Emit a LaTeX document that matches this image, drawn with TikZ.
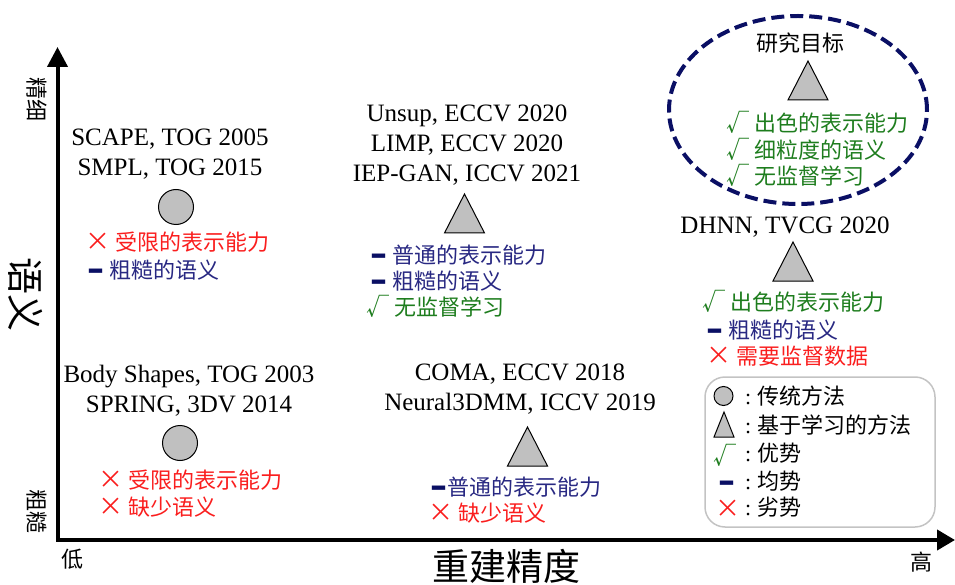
\documentclass[tikz,border=0pt]{standalone}
\usepackage{fontspec}
\setmainfont{Liberation Serif}
\newfontfamily\cjk{Noto Sans CJK SC}
\newfontfamily\dashfont{DejaVu Sans}
\usetikzlibrary{arrows.meta,shapes.geometric}

\definecolor{redc}{RGB}{250,30,30}
\definecolor{navyc}{RGB}{40,40,130}
\definecolor{navydark}{RGB}{10,15,100}
\definecolor{greenc}{RGB}{30,125,30}
\definecolor{markgray}{RGB}{192,192,192}
\definecolor{boxgray}{RGB}{195,195,195}

% marks used in front of each property (kept out of the line height)
\newcommand\plusmark{\raisebox{0pt}[0pt][0pt]{\fontsize{23}{25}\selectfont √}}
\newcommand\evenmark{\raisebox{-2.5pt}[0pt][0pt]{\color{navydark}\dashfont\bfseries\fontsize{34}{34}\selectfont –}}
\newcommand\minusmark{\raisebox{0pt}[0pt][0pt]{\fontsize{25}{25}\selectfont ×}}

\tikzset{
  paper/.style={font=\fontsize{25}{30}\selectfont, align=center, inner sep=0pt},
  prop/.style={anchor=west, inner sep=0pt, font=\cjk\fontsize{22}{25}\selectfont},
  good/.style={prop, text=greenc},
  even/.style={prop, text=navyc},
  bad/.style={prop, text=redc},
  keymark/.style={prop, anchor=base},
  axlabel/.style={inner sep=0pt, font=\cjk\fontsize{22}{24}\selectfont},
  axtitle/.style={inner sep=0pt, font=\cjk\fontsize{37}{40}\selectfont},
  tri/.style={draw=black, fill=markgray, line width=1pt, line join=miter},
  dot/.style={circle, draw=black, fill=markgray, line width=1pt, minimum size=35pt, inner sep=0pt},
}

\begin{document}
\begin{tikzpicture}[x=1pt, y=-1pt]
\useasboundingbox (0,0) rectangle (955,585);

% axes
\coordinate (origin) at (57.5,540);
\coordinate (ytip) at (57.5,47);
\coordinate (xtip) at (955,540);
\draw[line width=4pt, line join=miter,
      {Triangle[length=20pt,width=20pt]}-{Triangle[length=18pt,width=20pt]}]
  (ytip) -- (origin) -- (xtip);

% axis labels
\node[axlabel, rotate=-90] (fine) at (37,100) {精细};
\node[axtitle, rotate=-90] (semantic) at (26,295) {语义};
\node[axlabel, rotate=-90] (coarse) at (37,511) {粗糙};
\node[axlabel] (low) at (72,559) {低};
\node[axlabel] (high) at (921,562) {高};
\node[axtitle] (accuracy) at (506,566) {重建精度};

% traditional methods, fine semantics
\node[paper] (scape) at (170,154.5) {SCAPE, TOG 2005\\SMPL, TOG 2015};
\node[dot] (c1) at (176,207) {};
\node[bad] (c1a) at (85,242) {\minusmark\ 受限的表示能力};
\node[even] (c1b) at (87,270) {\evenmark\ 粗糙的语义};

% traditional methods, coarse semantics
\node[paper] (body) at (189,391) {Body Shapes, TOG 2003\\SPRING, 3DV 2014};
\node[dot] (c2) at (180,443) {};
\node[bad] (c2a) at (98,480) {\minusmark\ 受限的表示能力};
\node[bad] (c2b) at (98,507) {\minusmark\ 缺少语义};

% unsupervised learning methods
\node[paper] (unsup) at (467,145) {Unsup, ECCV 2020\\LIMP, ECCV 2020\\IEP-GAN, ICCV 2021};
\draw[tri] (464.5,194) -- (484.5,233) -- (444.5,233) -- cycle;
\node[even] (t1a) at (370,255) {\evenmark\ 普通的表示能力};
\node[even] (t1b) at (370,281) {\evenmark\ 粗糙的语义};
\node[good] (t1c) at (366,307) {\plusmark\ 无监督学习};

% mesh autoencoders
\node[paper] (coma) at (520,389) {COMA, ECCV 2018\\Neural3DMM, ICCV 2019};
\draw[tri] (527.5,427) -- (547.5,466) -- (507.5,466) -- cycle;
\node[even] (t2a) at (430,487) {\evenmark 普通的表示能力};
\node[bad] (t2b) at (428,513) {\minusmark\ 缺少语义};

% research goal
\node[ellipse, draw=navydark, line width=4pt, dash pattern=on 13pt off 6pt,
      minimum width=258pt, minimum height=188pt, inner sep=0pt] (goal) at (798,110) {};
\node[inner sep=0pt, font=\cjk\fontsize{22}{24}\selectfont] (goaltitle) at (800,43) {研究目标};
\draw[tri] (808,61) -- (828,100) -- (788,100) -- cycle;
\node[good] (g1) at (726,123) {\plusmark\ 出色的表示能力};
\node[good] (g2) at (726,150) {\plusmark\ 细粒度的语义};
\node[good] (g3) at (726,176) {\plusmark\ 无监督学习};

% supervised learning method
\node[paper] (dhnn) at (785,227) {DHNN, TVCG 2020};
\draw[tri] (793,242) -- (813,281) -- (773,281) -- cycle;
\node[good] (d1) at (702,302) {\plusmark\ 出色的表示能力};
\node[even] (d2) at (706,330) {\evenmark\ 粗糙的语义};
\node[bad] (d3) at (706,356) {\minusmark\ 需要监督数据};

% legend
\node[draw=boxgray, line width=1.5pt, rounded corners=20pt,
      minimum width=230pt, minimum height=150pt, inner sep=0pt] (legend) at (820,452) {};
\node[dot, minimum size=19pt] (lcirc) at (723.5,396) {};
\draw[tri] (724,412) -- (734,437) -- (714,437) -- cycle;
\node[keymark, text=greenc] (lgood) at (725,464) {\plusmark};
\node[keymark] (leven) at (727,489.5) {\evenmark};
\node[keymark, text=redc] (lbad) at (728,517) {\minusmark};
\node[prop] (ltxt1) at (745,396) {{\rmfamily :} 传统方法};
\node[prop] (ltxt2) at (745,425) {{\rmfamily :} 基于学习的方法};
\node[prop] (ltxt3) at (745,453) {{\rmfamily :} 优势};
\node[prop] (ltxt4) at (745,481) {{\rmfamily :} 均势};
\node[prop] (ltxt5) at (745,507) {{\rmfamily :} 劣势};
\end{tikzpicture}
\end{document}
